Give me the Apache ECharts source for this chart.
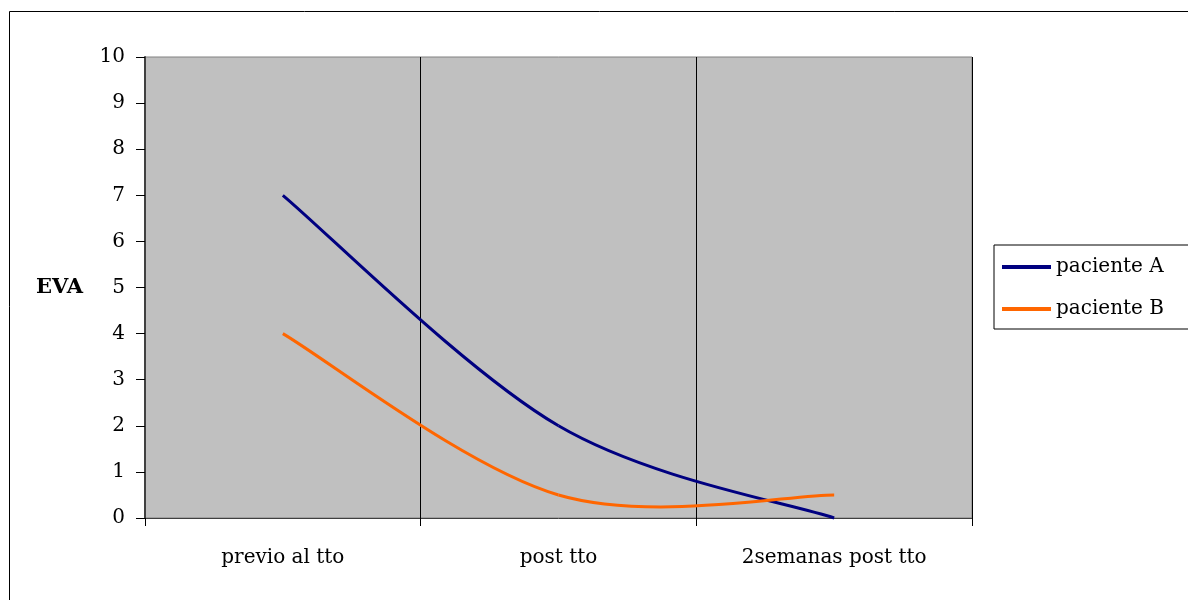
<!DOCTYPE html>
<html>
<head>
  <meta charset="utf-8">
  <title>EVA</title>
  <style>
    body { margin: 0; background: #fff; }
    #chart { width: 1188px; height: 600px; }
  </style>
</head>
<body>
  <div id="chart"></div>
</body>
<script src="https://cdn.jsdelivr.net/npm/echarts@6/dist/echarts.min.js"></script>
<script>
  var categories = ['previo al tto', 'post tto', '2semanas post tto'];
  var pacienteA = [7, 2, 0];
  var pacienteB = [4, 0.5, 0.5];
  var yTicks = { min: 0, max: 10, step: 1 };

  var font = 'DejaVu Serif';
  var chart = echarts.init(document.getElementById('chart'));

  // smoothed line like the spreadsheet one: bezier through the points,
  // control points from the neighbours (1/6 of the chord)
  function curveSeries(name, values, color) {
    return {
      name: name,
      type: 'custom',
      data: values.map(function (v, i) { return [i, v]; }),
      encode: { x: 0, y: 1 },
      itemStyle: { color: color },
      renderItem: function (params, api) {
        var i = params.dataIndex;
        if (i >= values.length - 1) return null;
        function pt(j) {
          j = Math.max(0, Math.min(values.length - 1, j));
          return api.coord([j, values[j]]);
        }
        var p0 = pt(i - 1), p1 = pt(i), p2 = pt(i + 1), p3 = pt(i + 2);
        return {
          type: 'bezierCurve',
          shape: {
            x1: p1[0], y1: p1[1],
            x2: p2[0], y2: p2[1],
            cpx1: p1[0] + (p2[0] - p0[0]) / 6,
            cpy1: p1[1] + (p2[1] - p0[1]) / 6,
            cpx2: p2[0] - (p3[0] - p1[0]) / 6,
            cpy2: p2[1] - (p3[1] - p1[1]) / 6
          },
          style: { stroke: color, lineWidth: 3, fill: null }
        };
      }
    };
  }

  var option = {
    animation: false,
    backgroundColor: '#fff',
    graphic: [
      {
        type: 'rect',
        shape: { x: 9.5, y: 11.5, width: 1200, height: 620 },
        style: { fill: 'none', stroke: '#000', lineWidth: 1 }
      },
      {
        type: 'text',
        left: 36,
        top: 277,
        style: { text: 'EVA', font: 'bold 21px "DejaVu Serif"', fill: '#000' }
      }
    ],
    grid: {
      left: 145,
      top: 57,
      width: 827,
      height: 461,
      show: true,
      backgroundColor: '#c0c0c0',
      borderColor: '#808080',
      borderWidth: 1
    },
    legend: {
      orient: 'vertical',
      left: 994,
      top: 245,
      itemWidth: 49,
      itemHeight: 4,
      itemGap: 22,
      padding: [12, 40, 10, 8],
      borderColor: '#000',
      borderWidth: 1,
      backgroundColor: '#fff',
      icon: 'rect',
      textStyle: { fontFamily: font, fontSize: 20, lineHeight: 20, color: '#000' },
      data: ['paciente A', 'paciente B']
    },
    xAxis: {
      type: 'category',
      data: categories,
      boundaryGap: true,
      axisLine: { lineStyle: { color: '#404040', width: 1 } },
      axisTick: { show: true, length: 8, lineStyle: { color: '#000' } },
      splitLine: { show: true, lineStyle: { color: '#000', width: 1 } },
      axisLabel: { fontFamily: font, fontSize: 20, color: '#000', margin: 30 }
    },
    yAxis: {
      type: 'value',
      min: yTicks.min,
      max: yTicks.max,
      interval: yTicks.step,
      axisLine: { show: true, lineStyle: { color: '#404040', width: 2 } },
      axisTick: { show: true, length: 9, lineStyle: { color: '#000' } },
      splitLine: { show: false },
      axisLabel: { fontFamily: font, fontSize: 20, color: '#000', margin: 20 }
    },
    series: [
      curveSeries('paciente A', pacienteA, '#000080'),
      curveSeries('paciente B', pacienteB, '#ff6600')
    ]
  };
  chart.setOption(option);
</script>
</html>
